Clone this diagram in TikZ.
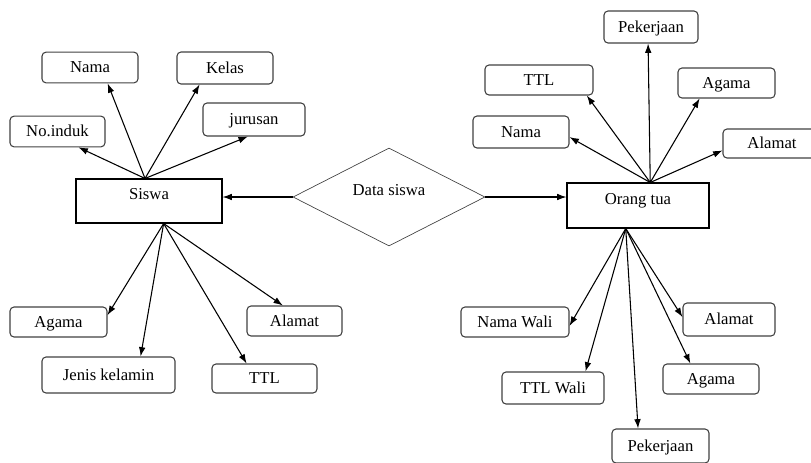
\documentclass[tikz,border=0pt]{standalone}
\usepackage{fontspec}
\setmainfont{Liberation Serif}
\usepackage{tikz}
\usetikzlibrary{
    arrows.meta,
    shapes.geometric
}
\definecolor{boxgray}{rgb}{0.25, 0.25, 0.25}
\tikzstyle{attr} = [
    rectangle,
    rounded corners=3pt,
    draw=boxgray,
    line width=0.8pt,
    minimum height=23pt,
    text height=9.5pt,
    text depth=2pt,
    inner sep=0pt,
    font=\fontsize{12.5}{15}\selectfont
]
\tikzstyle{entity} = [
    rectangle,
    draw=black,
    line width=0.8pt,
    text height=8pt,
    text depth=10pt,
    inner sep=0pt,
    font=\fontsize{12.5}{15}\selectfont
]
\tikzstyle{relation} = [
    diamond,
    draw=boxgray,
    line width=0.5pt,
    text height=8pt,
    text depth=11pt,
    inner sep=0pt,
    font=\fontsize{12.5}{15}\selectfont
]
\tikzstyle{arrow} = [
    -{Latex[length=7pt,width=5pt]},
    line width=0.8pt,
    draw=black
]

\begin{document}
\begin{tikzpicture}[x=0.75pt, y=-0.75pt]
        \useasboundingbox (0,0) rectangle (811,462);

        % Relationship (middle)
        \node[relation, minimum width=144pt, minimum height=60pt] (datasiswa) at (389,197) {Data siswa};

        % Siswa entity (left)
        \node[entity, minimum width=109.5pt, minimum height=33pt] (siswa) at (149,201) {Siswa};

        % Siswa attributes above
        \node[attr, minimum width=72pt] (namaS) at (90,67.5) {Nama};
        \node[attr, minimum width=72pt, minimum height=24pt] (kelas) at (225,68) {Kelas};
        \node[attr, minimum width=71.25pt] (noinduk) at (57.5,131.5) {No.induk};
        \node[attr, minimum width=76.5pt, minimum height=24.75pt] (jurusan) at (254,119.5) {jurusan};

        % Siswa attributes below
        \node[attr, minimum width=72.75pt, minimum height=22.5pt] (agamaS) at (58.5,322) {Agama};
        \node[attr, minimum width=99.75pt, minimum height=27pt] (jenis) at (108.5,375) {Jenis kelamin};
        \node[attr, minimum width=78.75pt, minimum height=21.75pt] (ttlS) at (264.5,378.5) {TTL};
        \node[attr, minimum width=71.25pt, minimum height=22.5pt] (alamatS) at (294.5,321) {Alamat};

        % Orang tua entity (right)
        \node[entity, minimum width=106.5pt, minimum height=33.75pt] (ortu) at (638,205.5) {Orang tua};

        % Orang tua attributes above
        \node[attr, minimum width=70.5pt, minimum height=24pt] (pekerjaanO) at (651,27) {Pekerjaan};
        \node[attr, minimum width=81pt, minimum height=22.5pt] (ttlO) at (539,80) {TTL};
        \node[attr, minimum width=72.75pt, minimum height=22.5pt] (agamaO) at (726.5,83) {Agama};
        \node[attr, minimum width=72pt, minimum height=24pt] (namaO) at (521,132) {Nama};
        \node[attr, minimum width=73.5pt, minimum height=21.75pt] (alamatO) at (772,143.5) {Alamat};

        % Wali attributes below
        \node[attr, minimum width=81pt, minimum height=22.5pt] (namawali) at (515,322) {Nama Wali};
        \node[attr, minimum width=76.5pt, minimum height=24pt] (ttlwali) at (553,388) {TTL Wali};
        \node[attr, minimum width=72.75pt, minimum height=25.5pt] (pekerjaanW) at (660.5,446) {Pekerjaan};
        \node[attr, minimum width=72pt, minimum height=22.5pt] (agamaW) at (711,379) {Agama};
        \node[attr, minimum width=69pt, minimum height=24.75pt] (alamatW) at (729,319.5) {Alamat};

        % Relationship arrows
        \draw[arrow] (datasiswa.west) -- (datasiswa.west -| siswa.east);
        \draw[arrow] (datasiswa.east) -- (datasiswa.east -| ortu.west);

        % Siswa arrows
        \draw[arrow] (siswa.100) -- (noinduk.-37);
        \draw[arrow] (siswa.100) -- (namaS.-42);
        \draw[arrow] (siswa.100) -- (kelas.-147);
        \draw[arrow] (siswa.100) -- (jurusan.-110);
        \draw[arrow] (siswa.-57) -- (agamaS.8);
        \draw[arrow] (siswa.-57) -- (jenis.30);
        \draw[arrow] (siswa.-57) -- (ttlS.140);
        \draw[arrow] (siswa.-57) -- (alamatS.127);

        % Orang tua arrows
        \draw[arrow] (ortu.62) -- (pekerjaanO.-100);
        \draw[arrow] (ortu.62) -- (ttlO.-18);
        \draw[arrow] (ortu.62) -- (agamaO.-150);
        \draw[arrow] (ortu.62) -- (namaO.-6);
        \draw[arrow] (ortu.62) -- (alamatO.-172);
        \draw[arrow] (ortu.-118) -- (namawali.-4);
        \draw[arrow] (ortu.-118) -- (ttlwali.27);
        \draw[arrow] (ortu.-118) -- (pekerjaanW.142);
        \draw[arrow] (ortu.-118) -- (agamaW.143);
        \draw[arrow] (ortu.-118) -- (alamatW.177);
    \end{tikzpicture}
\end{document}
